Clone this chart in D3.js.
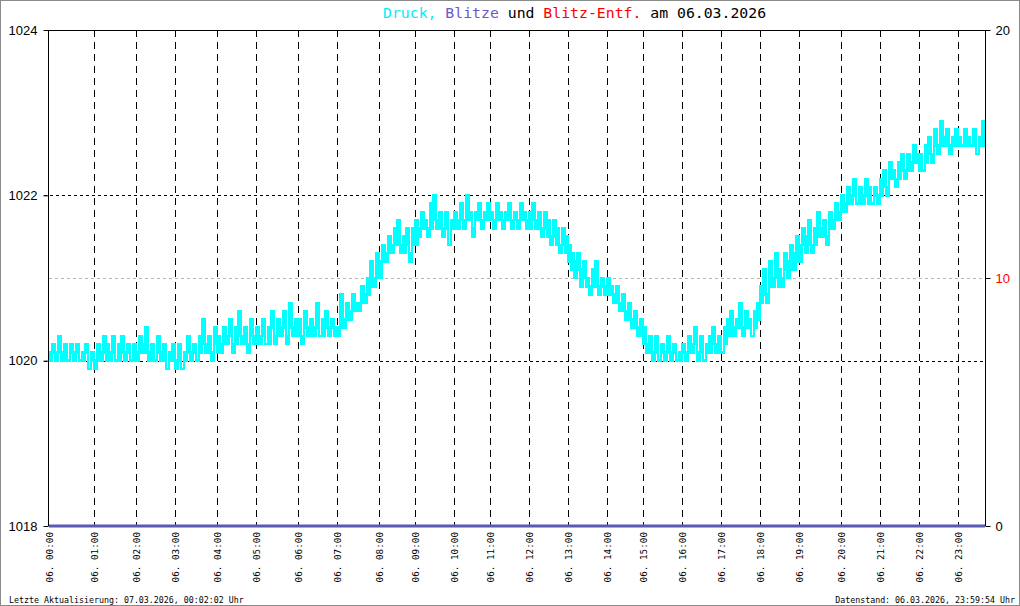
<!DOCTYPE html>
<html><head><meta charset="utf-8">
<script src="https://cdn.jsdelivr.net/npm/d3@7"></script>
<style>
html,body{margin:0;padding:0;background:#fff;}
svg{display:block;}
</style></head>
<body>
<svg id="c" width="1020" height="606"></svg>
<script>
// ---- data: pressure (hPa), upper and lower envelope per sample bin ----
const druckMax = [
// 00h
1020.1,1020.2,1020.1,1020.3,1020.1,1020.2,1020.0,1020.2,1020.1,1020.2,1020.0,1020.1,1020.2,1019.9,1020.1,
// 01h
1020.0,1020.2,1020.1,1020.3,1020.2,1020.1,1020.3,1020.0,1020.2,1020.3,1020.1,1020.2,1020.0,1020.2,
// 02h
1020.1,1020.3,1020.2,1020.4,1020.1,1020.2,1020.0,1020.3,1020.1,1020.2,1019.9,1020.1,1020.2,
// 03h
1020.0,1020.2,1019.9,1020.1,1020.3,1020.1,1020.2,1020.0,1020.3,1020.5,1020.2,1020.3,1020.1,1020.4,
// 04h
1020.3,1020.2,1020.4,1020.3,1020.5,1020.2,1020.4,1020.6,1020.3,1020.4,1020.2,1020.5,1020.3,
// 05h
1020.4,1020.3,1020.5,1020.2,1020.4,1020.6,1020.3,1020.5,1020.4,1020.6,1020.3,1020.7,1020.4,1020.5,
// 06h
1020.5,1020.3,1020.6,1020.4,1020.5,1020.4,1020.7,1020.3,1020.5,1020.6,1020.4,1020.5,1020.4,
// 07h
1020.4,1020.8,1020.5,1020.7,1020.6,1020.8,1020.7,1020.7,1020.9,1020.8,1021.0,1021.2,1021.0,1021.3,
// 08h
1021.2,1021.4,1021.3,1021.5,1021.4,1021.6,1021.7,1021.4,1021.5,1021.6,1021.3,1021.6,
// 09h
1021.7,1021.6,1021.8,1021.7,1021.6,1021.9,1022.0,1021.7,1021.8,1021.6,1021.8,1021.4,1021.7,
// 10h
1021.8,1021.7,1021.9,1021.7,1022.0,1021.8,1021.6,1021.8,1021.9,1021.7,1021.8,1021.9,
// 11h
1021.8,1021.7,1021.9,1021.8,1021.7,1021.8,1021.9,1021.7,1021.8,1021.7,1021.9,1021.8,1021.7,
// 12h
1021.8,1021.9,1021.7,1021.8,1021.6,1021.8,1021.7,1021.5,1021.7,1021.6,1021.4,1021.6,1021.5,
// 13h
1021.4,1021.3,1021.2,1021.3,1021.1,1021.2,1021.0,1020.9,1021.1,1021.2,1020.9,1021.0,1020.9,
// 14h
1021.0,1020.9,1020.8,1020.9,1020.7,1020.8,1020.6,1020.7,1020.5,1020.6,1020.4,1020.5,
// 15h
1020.4,1020.2,1020.3,1020.1,1020.3,1020.0,1020.2,1020.1,1020.3,1020.1,1020.2,1020.0,1020.1,
// 16h
1020.2,1020.1,1020.3,1020.2,1020.4,1020.1,1020.3,1020.0,1020.2,1020.3,1020.4,1020.2,1020.3,
// 17h
1020.1,1020.4,1020.5,1020.6,1020.4,1020.5,1020.7,1020.4,1020.6,1020.5,1020.3,1020.6,1020.7,
// 18h
1020.9,1021.1,1020.8,1021.2,1021.0,1021.3,1021.1,1021.0,1021.3,1021.2,1021.4,1021.3,1021.5,
// 19h
1021.4,1021.6,1021.5,1021.7,1021.4,1021.6,1021.8,1021.6,1021.7,1021.5,1021.8,1021.7,1021.9,1021.8,
// 20h
1022.0,1021.9,1022.1,1022.0,1022.2,1021.9,1022.1,1022.0,1022.2,1022.1,1021.9,1022.1,1022.0,
// 21h
1022.2,1022.3,1022.1,1022.4,1022.3,1022.2,1022.4,1022.5,1022.3,1022.5,1022.4,1022.6,1022.5,
// 22h
1022.5,1022.3,1022.6,1022.7,1022.5,1022.8,1022.6,1022.9,1022.7,1022.8,1022.6,1022.7,1022.8,
// 23h
1022.7,1022.6,1022.8,1022.7,1022.6,1022.8,1022.5,1022.7,1022.9,1022.7
];
const druckMin = [
// 00h
1020.0,1020.1,1020.0,1020.1,1020.0,1020.0,1020.0,1020.1,1020.0,1020.1,1020.0,1020.0,1020.1,1019.9,1020.0,
// 01h
1019.9,1020.0,1020.0,1020.1,1020.0,1020.0,1020.1,1020.0,1020.0,1020.1,1020.0,1020.1,1020.0,1020.0,
// 02h
1020.0,1020.1,1020.1,1020.1,1020.0,1020.0,1020.0,1020.1,1020.0,1020.0,1019.9,1020.0,1020.0,
// 03h
1019.9,1020.0,1019.9,1020.0,1020.1,1020.0,1020.1,1020.0,1020.1,1020.2,1020.1,1020.1,1020.0,1020.2,
// 04h
1020.1,1020.1,1020.2,1020.2,1020.3,1020.1,1020.2,1020.3,1020.2,1020.2,1020.1,1020.3,1020.2,
// 05h
1020.2,1020.2,1020.3,1020.2,1020.2,1020.4,1020.2,1020.3,1020.3,1020.4,1020.2,1020.4,1020.3,1020.3,
// 06h
1020.3,1020.2,1020.4,1020.3,1020.3,1020.3,1020.4,1020.3,1020.3,1020.4,1020.3,1020.4,1020.3,
// 07h
1020.3,1020.4,1020.4,1020.5,1020.5,1020.6,1020.6,1020.6,1020.7,1020.7,1020.8,1020.9,1020.9,1021.0,
// 08h
1021.0,1021.2,1021.2,1021.3,1021.3,1021.4,1021.4,1021.3,1021.3,1021.4,1021.2,1021.4,
// 09h
1021.4,1021.5,1021.6,1021.6,1021.5,1021.6,1021.7,1021.6,1021.6,1021.5,1021.6,1021.4,1021.6,
// 10h
1021.6,1021.6,1021.7,1021.6,1021.7,1021.7,1021.5,1021.7,1021.7,1021.6,1021.7,1021.7,
// 11h
1021.7,1021.6,1021.7,1021.7,1021.6,1021.7,1021.7,1021.6,1021.7,1021.6,1021.7,1021.7,1021.6,
// 12h
1021.6,1021.7,1021.6,1021.6,1021.5,1021.6,1021.5,1021.4,1021.5,1021.4,1021.3,1021.4,1021.3,
// 13h
1021.2,1021.1,1021.0,1021.1,1020.9,1021.0,1020.9,1020.8,1020.9,1020.9,1020.8,1020.9,1020.8,
// 14h
1020.8,1020.8,1020.7,1020.7,1020.6,1020.6,1020.5,1020.5,1020.4,1020.4,1020.3,1020.3,
// 15h
1020.2,1020.1,1020.1,1020.0,1020.1,1020.0,1020.1,1020.0,1020.1,1020.0,1020.1,1020.0,1020.0,
// 16h
1020.1,1020.0,1020.1,1020.1,1020.2,1020.0,1020.1,1020.0,1020.1,1020.1,1020.2,1020.1,1020.1,
// 17h
1020.1,1020.2,1020.3,1020.3,1020.3,1020.4,1020.4,1020.3,1020.4,1020.4,1020.3,1020.4,1020.5,
// 18h
1020.7,1020.8,1020.7,1020.9,1020.9,1021.0,1020.9,1020.9,1021.1,1021.0,1021.1,1021.1,1021.2,
// 19h
1021.2,1021.4,1021.3,1021.4,1021.3,1021.4,1021.5,1021.5,1021.5,1021.4,1021.6,1021.6,1021.7,1021.7,
// 20h
1021.8,1021.8,1021.9,1021.9,1022.0,1021.9,1021.9,1021.9,1022.0,1021.9,1021.9,1022.0,1021.9,
// 21h
1022.0,1022.1,1022.0,1022.2,1022.2,1022.1,1022.2,1022.3,1022.2,1022.3,1022.3,1022.4,1022.4,
// 22h
1022.3,1022.3,1022.4,1022.5,1022.4,1022.6,1022.5,1022.6,1022.6,1022.6,1022.5,1022.6,1022.6,
// 23h
1022.6,1022.6,1022.6,1022.6,1022.6,1022.6,1022.5,1022.6,1022.6,1022.6
];
// sample index at which each hour begins
const hourIdx = [0,15,29,42,56,69,83,96,110,122,135,147,160,173,186,198,211,224,237,250,264,277,290,303];
const hourLabels = ["06. 00:00","06. 01:00","06. 02:00","06. 03:00","06. 04:00","06. 05:00","06. 06:00","06. 07:00",
  "06. 08:00","06. 09:00","06. 10:00","06. 11:00","06. 12:00","06. 13:00","06. 14:00","06. 15:00",
  "06. 16:00","06. 17:00","06. 18:00","06. 19:00","06. 20:00","06. 21:00","06. 22:00","06. 23:00"];
// lightning count per hour (none)
const blitze = [0,0,0,0,0,0,0,0,0,0,0,0,0,0,0,0,0,0,0,0,0,0,0,0];
const leftTicks = [1018,1020,1022,1024];
const rightTicks = [0,10,20];
const titleParts = [["Druck, ","#00f0f0"],["Blitze ","#6a5acd"],["und ","#000"],["Blitz-Entf. ","#ff0000"],["am 06.03.2026","#000"]];
const footLeft = "Letzte Aktualisierung: 07.03.2026, 00:02:02 Uhr";
const footRight = "Datenstand: 06.03.2026, 23:59:54 Uhr";

// ---- layout ----
const X0 = 49, X1 = 985, Y0 = 30, Y1 = 526;
const svg = d3.select("#c");
const x = d3.scaleLinear().domain([0, druckMax.length - 1]).range([X0, X1]);
const yL = d3.scaleLinear().domain([1018, 1024]).range([Y1, Y0]);
const yR = d3.scaleLinear().domain([0, 20]).range([Y1, Y0]);

// frame
svg.append("rect").attr("x",0.5).attr("y",0.5).attr("width",1019).attr("height",605)
  .attr("fill","#fff").attr("stroke","#8a8a8a").attr("stroke-width",1);

// horizontal grid (left axis)
svg.append("g").selectAll("line").data([1020,1022]).join("line")
  .attr("x1",X0-5).attr("x2",X1).attr("y1",d=>Math.round(yL(d))+0.5).attr("y2",d=>Math.round(yL(d))+0.5)
  .attr("stroke","#000").attr("stroke-dasharray","3,3");
// right axis grid at 10
svg.append("g").selectAll("line").data([10]).join("line")
  .attr("x1",X0).attr("x2",X1).attr("y1",d=>Math.round(yR(d))+0.5).attr("y2",d=>Math.round(yR(d))+0.5)
  .attr("stroke","#b4b4b4").attr("stroke-dasharray","3,3");
// top line
svg.append("line").attr("x1",X0-5).attr("x2",X1+5).attr("y1",Y0+0.5).attr("y2",Y0+0.5).attr("stroke","#000");

// vertical hour lines
svg.append("g").selectAll("line").data(hourIdx.slice(1)).join("line")
  .attr("x1",d=>Math.round(x(d))+0.5).attr("x2",d=>Math.round(x(d))+0.5).attr("y1",Y0).attr("y2",Y1)
  .attr("stroke","#000").attr("stroke-dasharray","7,5");

// pressure band
const idx = d3.range(druckMax.length);
const area = d3.area().x(i=>x(i)).y0(i=>yL(druckMin[i])).y1(i=>yL(druckMax[i])).curve(d3.curveStepAfter);
svg.append("path").datum(idx).attr("d",area)
  .attr("fill","#00ffff").attr("stroke","#00ffff").attr("stroke-width",2.5).attr("stroke-linejoin","miter")
  .attr("shape-rendering","crispEdges");

// left axis
const axL = d3.axisLeft(yL).tickValues(leftTicks).tickSize(5).tickPadding(6).tickFormat(d3.format("d"));
const gL = svg.append("g").attr("transform",`translate(${X0-0.5},0)`).call(axL);
gL.select(".domain").attr("stroke","#000").attr("d",`M0,${Y0}V${Y1}`);
gL.selectAll("text").attr("font-family","Liberation Sans, Arial, sans-serif").attr("font-size",13).attr("fill","#000");

// right axis
const axR = d3.axisRight(yR).tickValues(rightTicks).tickSize(5).tickPadding(5).tickFormat(d3.format("d"));
const gR = svg.append("g").attr("transform",`translate(${X1+0.5},0)`).call(axR);
gR.select(".domain").attr("stroke","#000").attr("d",`M0,${Y0}V${Y1}`);
gR.selectAll("text").attr("font-family","Liberation Sans, Arial, sans-serif").attr("font-size",13)
  .attr("fill",d=>d===10?"#ff0000":"#000");

// blitze line at zero (right axis)
const bl = d3.line().x((d,i)=>x(i<hourIdx.length?hourIdx[i]:druckMax.length-1)).y(d=>yR(d));
svg.append("path").datum(blitze.concat([0])).attr("d",bl).attr("fill","none")
  .attr("stroke","#5a5ab4").attr("stroke-width",3);

// x labels
svg.append("g").selectAll("text").data(hourIdx).join("text")
  .attr("transform",(d)=>`translate(${x(d)+3.5},${Y1+6}) rotate(-90)`)
  .attr("text-anchor","end")
  .attr("font-family","DejaVu Sans Mono, monospace").attr("font-size",9.3).attr("fill","#000")
  .text((d,i)=>hourLabels[i]);

// title
const t = svg.append("text").attr("x",383).attr("y",18)
  .attr("font-family","DejaVu Sans Mono, monospace").attr("font-size",14.8).attr("xml:space","preserve");
t.selectAll("tspan").data(titleParts).join("tspan").attr("fill",d=>d[1]).text(d=>d[0]);

// footer
svg.append("text").attr("x",9).attr("y",603).attr("font-family","DejaVu Sans Mono, monospace")
  .attr("font-size",8.3).attr("fill","#000").text(footLeft);
svg.append("text").attr("x",1015).attr("y",603).attr("text-anchor","end").attr("font-family","DejaVu Sans Mono, monospace")
  .attr("font-size",8.3).attr("fill","#000").text(footRight);
</script>
</body></html>
